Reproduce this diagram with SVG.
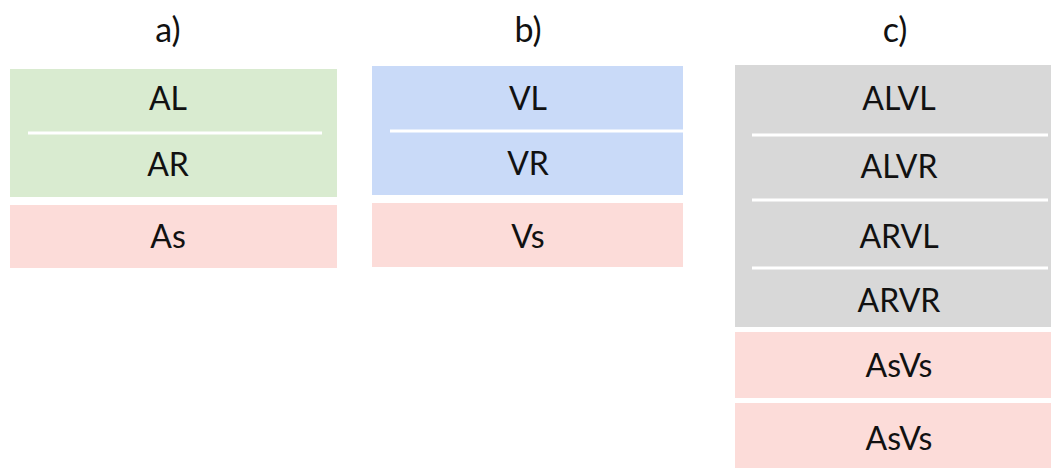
<svg xmlns="http://www.w3.org/2000/svg" width="1051" height="468" viewBox="0 0 1051 468">
<style>
text{font-family:Lato,"Open Sans","Liberation Sans",sans-serif;font-size:32px;fill:#111111;text-anchor:middle}
.t{font-size:34px}
.g{fill:#d9ebd0}.b{fill:#c9daf8}.p{fill:#fcdcd9}.k{fill:#d8d8d8}
.sep{stroke:#ffffff;stroke-width:3}
</style>
<rect width="1051" height="468" fill="#ffffff"/>
<g id="panel-a">
<text class="t" x="168" y="42">a)</text>
<rect class="g" x="10" y="69" width="327" height="128"/>
<line class="sep" x1="28" y1="133" x2="322" y2="133"/>
<text x="168" y="110">AL</text>
<text x="168" y="176">AR</text>
</g>
<g id="node-As">
<rect class="p" x="10" y="205" width="327" height="63"/>
<text x="168" y="248">As</text>
</g>
<g id="panel-b">
<text class="t" x="528" y="42">b)</text>
<rect class="b" x="372" y="66" width="311" height="129"/>
<line class="sep" x1="390" y1="131" x2="683" y2="131"/>
<text x="528" y="110">VL</text>
<text x="528" y="175">VR</text>
</g>
<g id="node-Vs">
<rect class="p" x="372" y="203" width="311" height="64"/>
<text x="528" y="248">Vs</text>
</g>
<g id="panel-c">
<text class="t" x="895" y="42">c)</text>
<rect class="k" x="735" y="65" width="316" height="262"/>
<line class="sep" x1="752" y1="135" x2="1048" y2="135"/>
<line class="sep" x1="752" y1="200" x2="1048" y2="200"/>
<line class="sep" x1="752" y1="268" x2="1048" y2="268"/>
<text x="899" y="110">ALVL</text>
<text x="899" y="178">ALVR</text>
<text x="899" y="248">ARVL</text>
<text x="899" y="312">ARVR</text>
</g>
<g id="node-AsVs-1">
<rect class="p" x="735" y="332" width="316" height="66"/>
<text x="899" y="377">AsVs</text>
</g>
<g id="node-AsVs-2">
<rect class="p" x="735" y="403" width="316" height="65"/>
<text x="899" y="450">AsVs</text>
</g>
<g id="connectors"></g>
</svg>
